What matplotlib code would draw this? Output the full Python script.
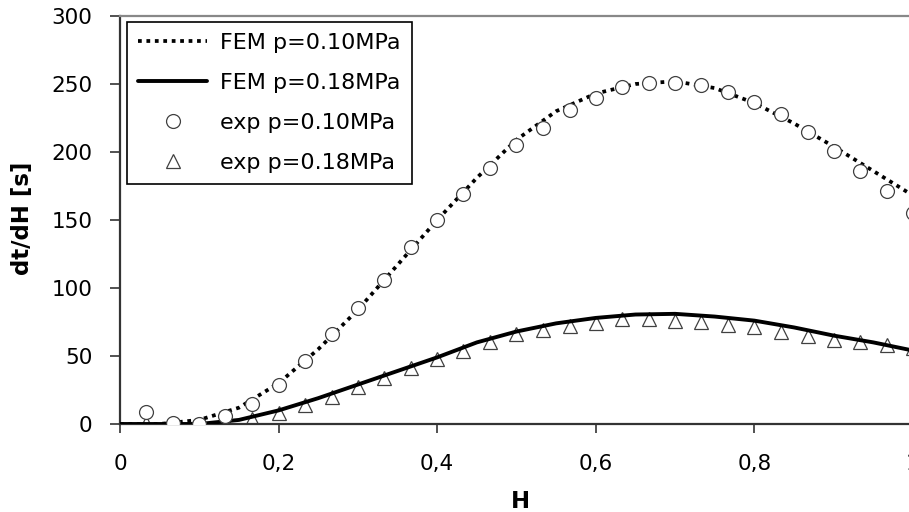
import numpy as np
import matplotlib
matplotlib.use("Agg")
import matplotlib.pyplot as plt

# FEM curves
h_fem = [0.0, 0.05, 0.1, 0.15, 0.2, 0.25, 0.3, 0.35, 0.4, 0.45, 0.5,
         0.55, 0.6, 0.65, 0.7, 0.75, 0.8, 0.85, 0.9, 0.95, 1.0]
fem_010 = [0, 0, 3, 12, 30, 55, 84, 117, 150, 181, 209,
           230, 243, 250, 252, 247, 236, 221, 204, 186, 168]
fem_018 = [0, 0, 0, 3, 10, 19, 29, 39, 49, 60, 68,
           74, 78, 80.5, 81, 79, 76, 71, 65, 60, 54]

# experimental points
h_exp = [0.033, 0.067, 0.1, 0.133, 0.167, 0.2, 0.233, 0.267, 0.3, 0.333,
         0.367, 0.4, 0.433, 0.467, 0.5, 0.533, 0.567, 0.6, 0.633, 0.667,
         0.7, 0.733, 0.767, 0.8, 0.833, 0.867, 0.9, 0.933, 0.967, 1.0]
exp_010 = [9, 1, 0, 6, 15, 29, 46, 66, 85, 106,
           130, 150, 169, 188, 205, 218, 231, 240, 248, 251,
           251, 249, 244, 237, 228, 215, 201, 186, 171, 155]
exp_018 = [1, 0, 0, 3, 4, 8, 14, 20, 27, 34,
           41, 48, 54, 60, 66, 69, 72, 74, 77, 77,
           76, 75, 73, 71, 68, 65, 62, 60, 58, 56]

x_ticks = [0, 0.2, 0.4, 0.6, 0.8, 1.0]
x_labels = ["0", "0,2", "0,4", "0,6", "0,8", "1"]
y_ticks = [0, 50, 100, 150, 200, 250, 300]

plt.rcParams['font.family'] = ['DejaVu Sans']

fig = plt.figure(figsize=(9.09, 5.12), dpi=100)
ax = fig.add_axes([120 / 909, 88 / 512, 793 / 909, 408 / 512])

# lines
ax.plot(h_fem, fem_010, color='black', linewidth=2.7, dashes=(1, 1.25),
        dash_capstyle='butt', label='FEM p=0.10MPa', zorder=2)
ax.plot(h_exp, exp_018, linestyle='none', marker='^', markersize=9.5,
        markerfacecolor='white', markeredgecolor='#404040', markeredgewidth=0.9,
        label='exp p=0.18MPa', zorder=2)
ax.plot(h_fem, fem_018, color='black', linewidth=2.8, solid_capstyle='round',
        label='FEM p=0.18MPa', zorder=3)
ax.plot(h_exp, exp_010, linestyle='none', marker='o', markersize=10,
        markerfacecolor='white', markeredgecolor='#404040', markeredgewidth=0.9,
        label='exp p=0.10MPa', zorder=4)

ax.set_xlim(0, 1)
ax.set_ylim(0, 300)
ax.set_xticks(x_ticks)
ax.set_xticklabels(x_labels)
ax.set_yticks(y_ticks)

ax.tick_params(axis='x', length=6.5, width=1.2, pad=15, labelsize=15.5, color='#333333')
ax.tick_params(axis='y', length=7, width=1.2, pad=13, labelsize=15.5, color='#333333')

for side in ['left', 'bottom']:
    ax.spines[side].set_linewidth(1.6)
    ax.spines[side].set_color('#333333')
ax.spines['top'].set_linewidth(1.6)
ax.spines['top'].set_color('#888888')
ax.spines['right'].set_visible(False)

ax.set_xlabel('H', fontsize=16.5, fontweight='bold')
ax.xaxis.set_label_coords((520 - 120) / 793, -(490 - 424) / 408)
ax.set_ylabel('dt/dH [s]', fontsize=16.5, fontweight='bold')
ax.yaxis.set_label_coords(-(120 - 34) / 793, (424 - 218) / 408)

# legend in the reference order
handles, labels = ax.get_legend_handles_labels()
order = ['FEM p=0.10MPa', 'FEM p=0.18MPa', 'exp p=0.10MPa', 'exp p=0.18MPa']
hmap = dict(zip(labels, handles))
leg = ax.legend([hmap[k] for k in order], order, loc='upper left',
                bbox_to_anchor=(127 / 909, 1 - 22 / 512), bbox_transform=fig.transFigure,
                borderaxespad=0, fontsize=16, handlelength=3.1, handletextpad=0.6,
                labelspacing=0.9, borderpad=0.5, fancybox=False, framealpha=1,
                edgecolor='black')
leg.get_frame().set_linewidth(1.2)

fig.savefig('out.png', dpi=100)
